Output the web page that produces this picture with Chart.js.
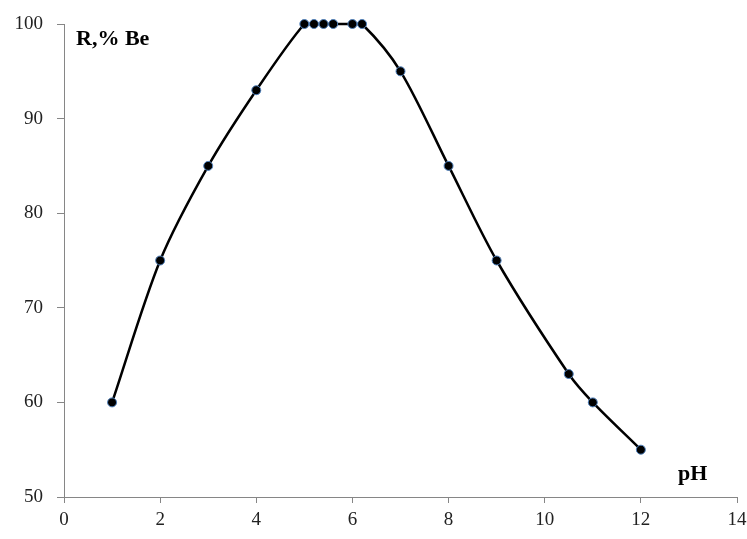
<!DOCTYPE html>
<html>
<head>
<meta charset="utf-8">
<script src="https://cdn.jsdelivr.net/npm/chart.js@4.4.1/dist/chart.umd.min.js"></script>
<style>
  html, body { margin: 0; padding: 0; background: #fff; }
  #wrap { width: 747px; height: 539px; }
</style>
</head>
<body>
<div id="wrap"><canvas id="chart"></canvas></div>
<script>
// pH values and extraction degree R, % Be
const phValues = [1, 2, 3, 4, 5, 5.2, 5.4, 5.6, 6, 6.2, 7, 8, 9, 10.5, 11, 12];
const recovery = [60, 75, 85, 93, 100, 100, 100, 100, 100, 100, 95, 85, 75, 63, 60, 55];
const xTicks = [0, 2, 4, 6, 8, 10, 12, 14];
const yTicks = [50, 60, 70, 80, 90, 100];

const points = phValues.map((x, i) => ({ x: x, y: recovery[i] }));

// axis captions drawn inside the plot like in the original
const captions = {
  id: 'captions',
  afterDraw(chart) {
    const ctx = chart.ctx;
    const a = chart.chartArea;
    ctx.save();
    ctx.fillStyle = '#000';
    ctx.font = 'bold 22px "Liberation Serif", serif';
    ctx.textBaseline = 'alphabetic';
    ctx.textAlign = 'left';
    ctx.fillText('R,% Be', a.left + 12, a.top + 21);
    ctx.fillText('pH', a.right - 59, a.bottom - 17);
    ctx.restore();
  }
};

const axisFont = { family: '"Liberation Serif", serif', size: 19 };

new Chart(document.getElementById('chart'), {
  type: 'scatter',
  data: {
    datasets: [{
      data: points,
      showLine: true,
      clip: 8,
      borderColor: '#000',
      borderWidth: 2.5,
      tension: 0.3,
      pointRadius: 4.5,
      pointBackgroundColor: '#000',
      pointBorderColor: '#4f81bd',
      pointBorderWidth: 1
    }]
  },
  options: {
    responsive: true,
    maintainAspectRatio: false,
    animation: false,
    layout: { padding: { top: 24, right: 10, left: 0, bottom: 0 } },
    plugins: { legend: { display: false }, tooltip: { enabled: false } },
    scales: {
      x: {
        type: 'linear',
        min: 0, max: 14,
        afterBuildTicks: s => { s.ticks = xTicks.map(v => ({ value: v })); },
        afterFit: s => { s.height = 42; s.paddingRight = 0; s.paddingLeft = 0; },
        grid: { drawOnChartArea: false, color: '#868686', tickLength: 6 },
        border: { color: '#868686', width: 1 },
        ticks: { color: '#222', font: axisFont, padding: 6, maxRotation: 0 }
      },
      y: {
        type: 'linear',
        min: 50, max: 100,
        afterBuildTicks: s => { s.ticks = yTicks.map(v => ({ value: v })); },
        afterFit: s => { s.width = 64; s.paddingTop = 0; s.paddingBottom = 0; },
        grid: { drawOnChartArea: false, color: '#868686', tickLength: 7 },
        border: { color: '#868686', width: 1 },
        ticks: { color: '#222', font: axisFont, padding: 14 }
      }
    }
  },
  plugins: [captions]
});
</script>
</body>
</html>
